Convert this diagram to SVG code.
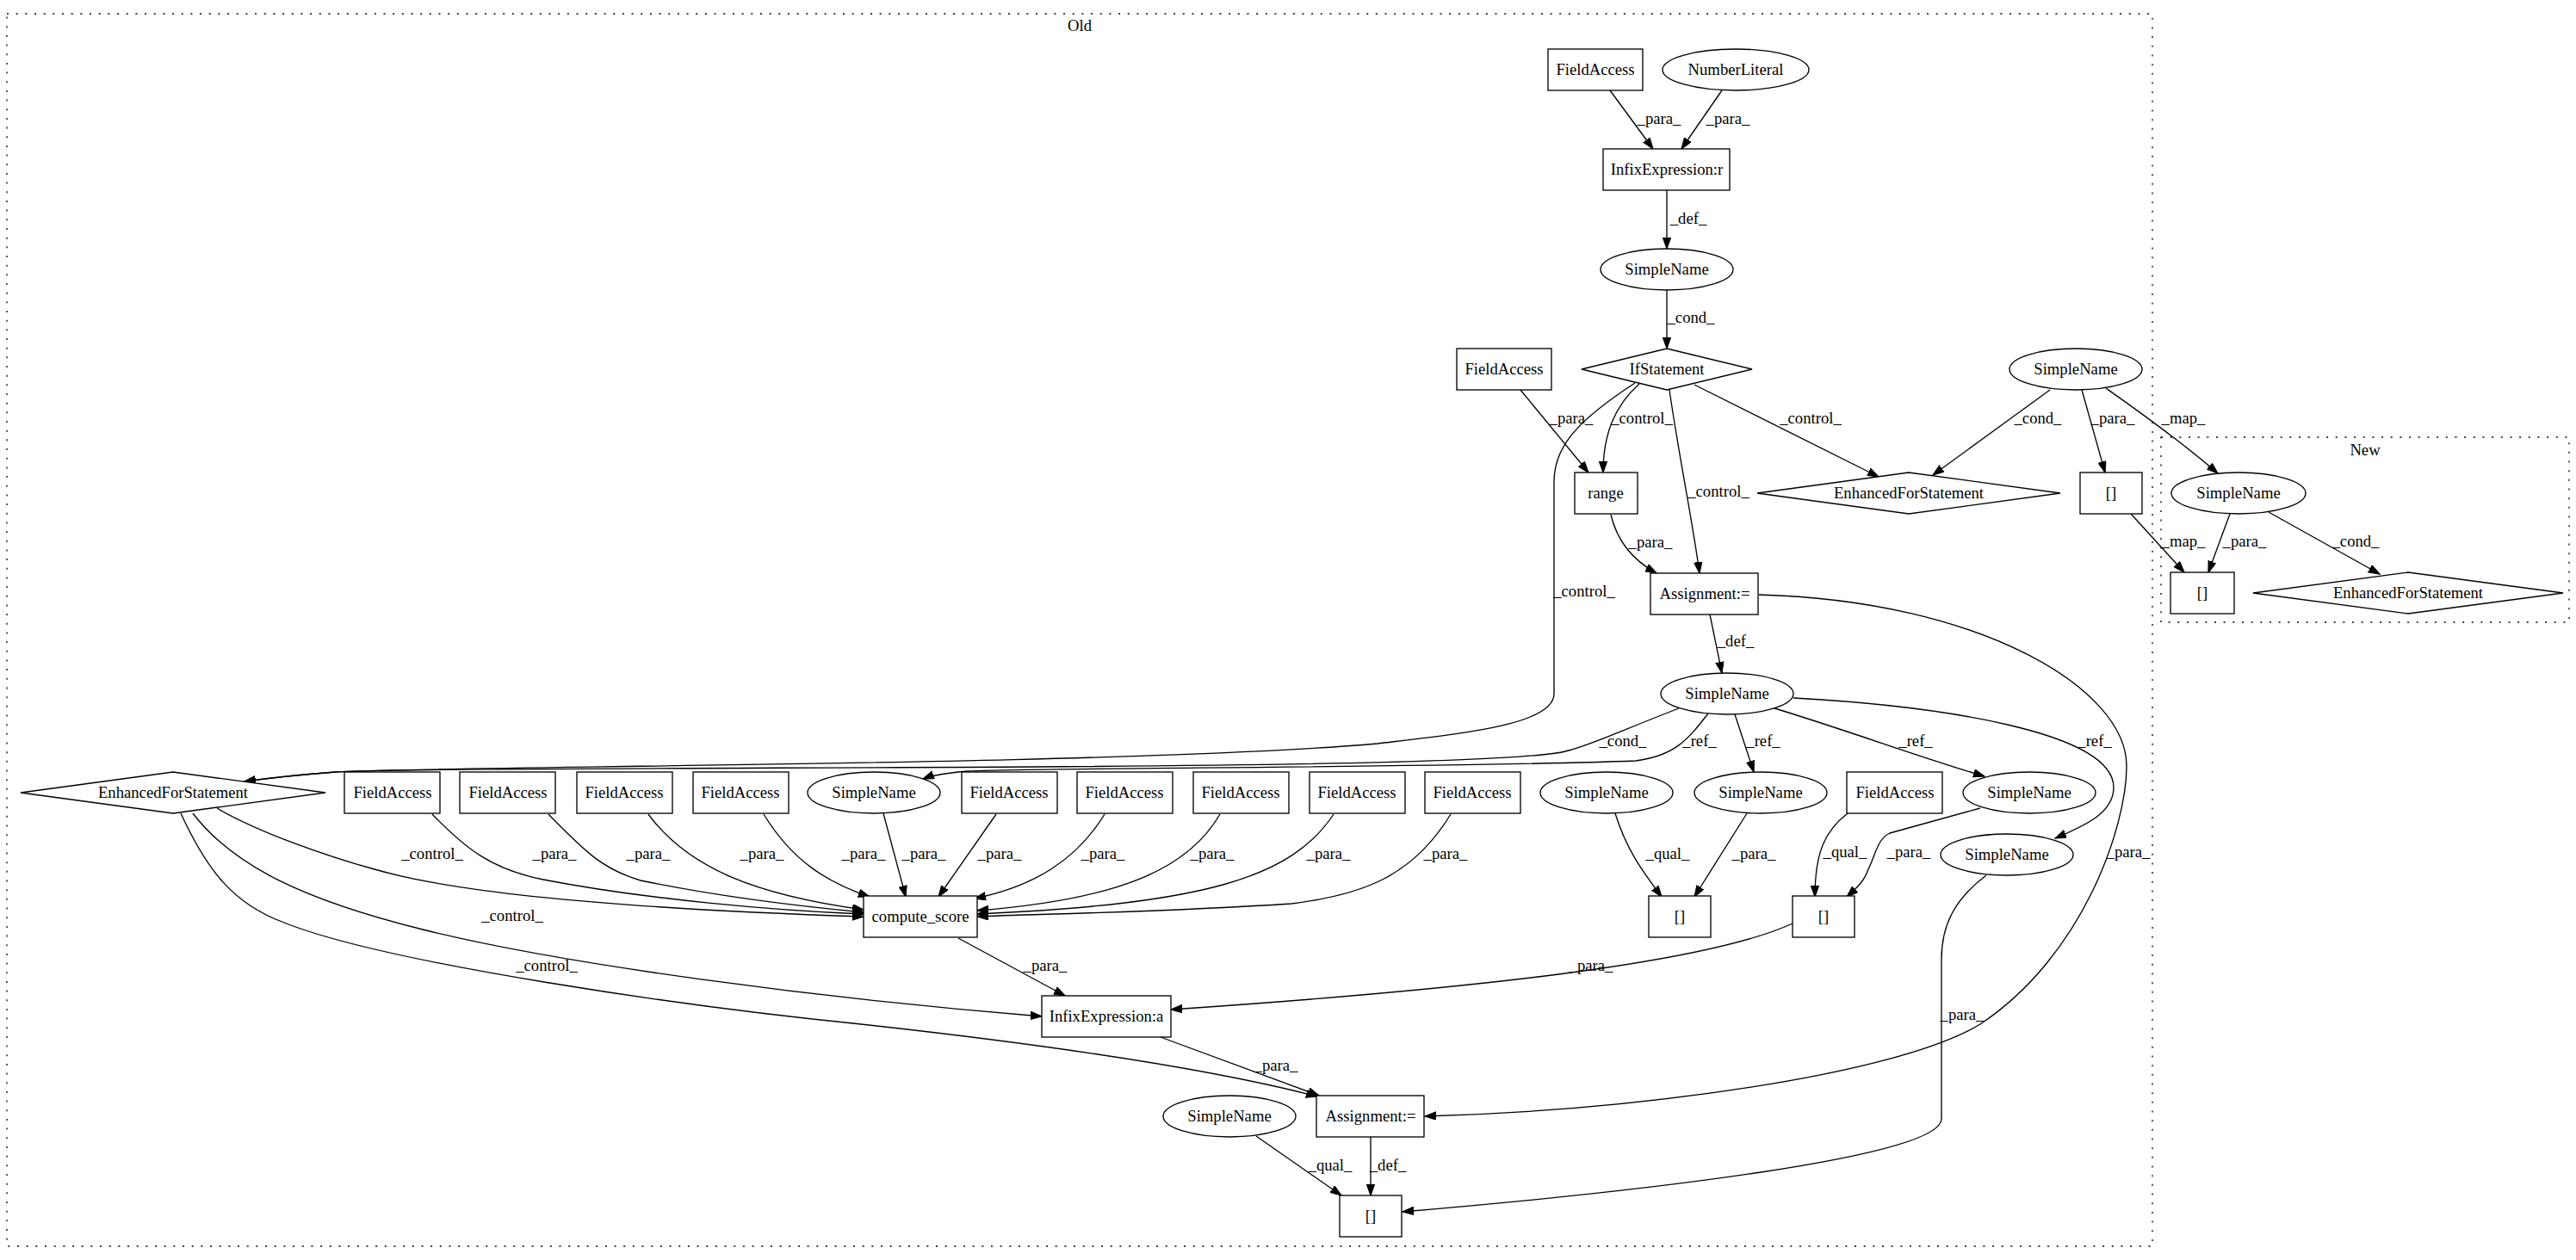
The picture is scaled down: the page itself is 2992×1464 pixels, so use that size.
<svg xmlns="http://www.w3.org/2000/svg" width="2992" height="1464" viewBox="0 0 2992 1464">
<style>
.s{fill:#fff;stroke:#000;stroke-width:1.33}
.c{fill:none;stroke:#000;stroke-width:1.33;stroke-dasharray:2,8.67}
.t{font-family:"Liberation Serif","Times New Roman",serif;font-size:18.67px;text-anchor:middle;fill:#000}
.e path{fill:none;stroke:#000;stroke-width:1.33;marker-end:url(#a)}
</style>
<defs>
<marker id="a" markerWidth="14" markerHeight="10" refX="13" refY="4.7" orient="auto" markerUnits="userSpaceOnUse"><path d="M0,0 L13.3,4.7 L0,9.4 z" fill="#000" stroke="#000" stroke-width="1"/></marker>
</defs>
<rect width="2992" height="1464" fill="#fff"/>
<g id="cluster_old"><rect class="c" x="8" y="16" width="2492" height="1432"/><text class="t" x="1254" y="36">Old</text></g>
<g id="cluster_new"><rect class="c" x="2510" y="508" width="474" height="215"/><text class="t" x="2747" y="529">New</text></g>

<g class="e" id="edges">
<path d="M1870,105 L1920,173"/>
<path d="M2000,105 L1953,173"/>
<path d="M1936,221 L1936,289"/>
<path d="M1936,337 L1936,405"/>
<path d="M1766,453 L1845,549"/>
<path d="M1904,446 C1875,472 1862,505 1862,549"/>
<path d="M1939,453 C1950,530 1965,600 1974,666"/>
<path d="M1968,447 L2182,554"/>
<path d="M1899,445 C1830,490 1805,520 1805,560 L1805,806 C1805,842 1700,852 1600,864 C1300,890 500,890 390,897 C350,900 320,903 284,908"/>
<path d="M1950,823 C1880,850 1850,865 1822,872 C1780,885 1500,889 1200,891 C800,893 450,893 390,897 C350,900 320,903 284,908"/>
<path d="M2381,453 L2245,552"/>
<path d="M2418,453 L2445,549"/>
<path d="M2446,451 C2480,475 2530,510 2576,550"/>
<path d="M2475,597 L2537,665"/>
<path d="M2590,597 L2565,665"/>
<path d="M2635,595 L2764,667"/>
<path d="M1871,598 C1878,628 1895,650 1924,666"/>
<path d="M1986,714 L2000,782"/>
<path d="M2043,691 C2300,698 2470,800 2470,890 C2470,960 2420,1110 2300,1190 C2200,1250 1900,1290 1655,1297"/>
<path d="M1984,829 C1960,860 1945,878 1900,884 C1700,892 1200,892 1124,896 C1100,898 1085,900 1072,905"/>
<path d="M2015,830 L2037,897"/>
<path d="M2058,822 C2150,850 2230,880 2305,902"/>
<path d="M2083,811 C2250,820 2455,850 2455,915 C2455,945 2420,960 2387,974"/>
<path d="M252,939 C300,967 380,995 435,1010 C520,1035 700,1055 1003,1065"/>
<path d="M224,945 C270,1005 350,1045 491,1080 C650,1120 950,1160 1210,1181"/>
<path d="M210,945 C240,1010 270,1050 330,1072 C450,1120 800,1170 1000,1190 C1200,1212 1400,1240 1530,1274"/>
<path d="M502,946 C540,985 570,1010 631,1022 C750,1045 900,1058 1003,1062"/>
<path d="M637,946 C680,990 700,1010 744,1023 C850,1045 950,1055 1003,1060"/>
<path d="M753,946 C800,1010 880,1040 1003,1057"/>
<path d="M887,946 C920,1000 960,1025 1010,1042"/>
<path d="M1026,945 L1052,1042"/>
<path d="M1157,946 L1090,1042"/>
<path d="M1283,946 C1250,1000 1200,1030 1132,1044"/>
<path d="M1417,946 C1380,1010 1300,1045 1135,1058"/>
<path d="M1549,946 C1500,1020 1400,1050 1135,1062"/>
<path d="M1685,946 C1640,1020 1580,1040 1500,1050 C1350,1060 1200,1062 1135,1065"/>
<path d="M1876,945 C1890,990 1910,1015 1930,1042"/>
<path d="M2029,945 L1968,1042"/>
<path d="M2146,945 C2120,965 2108,990 2108,1042"/>
<path d="M2300,939 L2195,968 C2180,975 2178,995 2170,1010 C2165,1025 2155,1033 2145,1042"/>
<path d="M2082,1073 C1980,1120 1700,1150 1360,1173"/>
<path d="M1113,1090 L1237,1157"/>
<path d="M1348,1205 L1532,1273"/>
<path d="M2307,1017 C2270,1045 2255,1075 2255,1115 L2255,1300 C2255,1345 1900,1385 1629,1408"/>
<path d="M1459,1320 L1558,1389"/>
<path d="M1592,1321 L1592,1389"/>
</g>

<g id="edge_labels">
<text class="t" x="1927" y="144">_para_</text>
<text class="t" x="2007" y="144">_para_</text>
<text class="t" x="1961" y="260">_def_</text>
<text class="t" x="1964" y="375">_cond_</text>
<text class="t" x="1825" y="492">_para_</text>
<text class="t" x="1907" y="492">_control_</text>
<text class="t" x="2103" y="492">_control_</text>
<text class="t" x="1996" y="577">_control_</text>
<text class="t" x="1840" y="693">_control_</text>
<text class="t" x="2367" y="492">_cond_</text>
<text class="t" x="2454" y="492">_para_</text>
<text class="t" x="2536" y="492">_map_</text>
<text class="t" x="2536" y="635">_map_</text>
<text class="t" x="2607" y="635">_para_</text>
<text class="t" x="2736" y="635">_cond_</text>
<text class="t" x="1917" y="636">_para_</text>
<text class="t" x="2016" y="751">_def_</text>
<text class="t" x="1885" y="867">_cond_</text>
<text class="t" x="1974" y="867">_ref_</text>
<text class="t" x="2048" y="867">_ref_</text>
<text class="t" x="2225" y="867">_ref_</text>
<text class="t" x="2433" y="867">_ref_</text>
<text class="t" x="2472" y="996">_para_</text>
<text class="t" x="502" y="998">_control_</text>
<text class="t" x="644" y="998">_para_</text>
<text class="t" x="753" y="998">_para_</text>
<text class="t" x="885" y="998">_para_</text>
<text class="t" x="1003" y="998">_para_</text>
<text class="t" x="1073" y="998">_para_</text>
<text class="t" x="1161" y="998">_para_</text>
<text class="t" x="1281" y="998">_para_</text>
<text class="t" x="1408" y="998">_para_</text>
<text class="t" x="1543" y="998">_para_</text>
<text class="t" x="1679" y="998">_para_</text>
<text class="t" x="1937" y="998">_qual_</text>
<text class="t" x="2037" y="998">_para_</text>
<text class="t" x="2143" y="996">_qual_</text>
<text class="t" x="2217" y="996">_para_</text>
<text class="t" x="595" y="1070">_control_</text>
<text class="t" x="635" y="1128">_control_</text>
<text class="t" x="1214" y="1128">_para_</text>
<text class="t" x="1848" y="1128">_para_</text>
<text class="t" x="2279" y="1185">_para_</text>
<text class="t" x="1482" y="1244">_para_</text>
<text class="t" x="1545" y="1360">_qual_</text>
<text class="t" x="1612" y="1360">_def_</text>
</g>

<g id="n1"><rect class="s" x="1798" y="57" width="110" height="48"/><text class="t" x="1853" y="87">FieldAccess</text></g>
<g id="n2"><ellipse class="s" cx="2016" cy="81" rx="85" ry="24"/><text class="t" x="2016" y="87">NumberLiteral</text></g>
<g id="n3"><rect class="s" x="1862" y="173" width="147" height="48"/><text class="t" x="1936" y="203">InfixExpression:r</text></g>
<g id="n4"><ellipse class="s" cx="1936" cy="313" rx="77" ry="24"/><text class="t" x="1936" y="319">SimpleName</text></g>
<g id="n5"><polygon class="s" points="1936,405 2035,429 1936,453 1837,429"/><text class="t" x="1936" y="435">IfStatement</text></g>
<g id="n6"><rect class="s" x="1692" y="405" width="110" height="48"/><text class="t" x="1747" y="435">FieldAccess</text></g>
<g id="n7"><ellipse class="s" cx="2411" cy="429" rx="77" ry="24"/><text class="t" x="2411" y="435">SimpleName</text></g>
<g id="n8"><rect class="s" x="1829" y="549" width="73" height="48"/><text class="t" x="1865" y="579">range</text></g>
<g id="n9"><polygon class="s" points="2217,549 2393,573 2217,597 2041,573"/><text class="t" x="2217" y="579">EnhancedForStatement</text></g>
<g id="n10"><rect class="s" x="2416" y="549" width="72" height="48"/><text class="t" x="2452" y="579">[]</text></g>
<g id="n11"><rect class="s" x="1917" y="666" width="125" height="48"/><text class="t" x="1980" y="696">Assignment:=</text></g>
<g id="n12"><ellipse class="s" cx="2006" cy="806" rx="77" ry="24"/><text class="t" x="2006" y="812">SimpleName</text></g>
<g id="n13"><polygon class="s" points="201,897 378,921 201,945 24,921"/><text class="t" x="201" y="927">EnhancedForStatement</text></g>
<g id="n14"><rect class="s" x="400" y="897" width="111" height="48"/><text class="t" x="456" y="927">FieldAccess</text></g>
<g id="n15"><rect class="s" x="534" y="897" width="111" height="48"/><text class="t" x="590" y="927">FieldAccess</text></g>
<g id="n16"><rect class="s" x="670" y="897" width="111" height="48"/><text class="t" x="725" y="927">FieldAccess</text></g>
<g id="n17"><rect class="s" x="805" y="897" width="111" height="48"/><text class="t" x="860" y="927">FieldAccess</text></g>
<g id="n18"><ellipse class="s" cx="1015" cy="921" rx="77" ry="24"/><text class="t" x="1015" y="927">SimpleName</text></g>
<g id="n19"><rect class="s" x="1117" y="897" width="111" height="48"/><text class="t" x="1172" y="927">FieldAccess</text></g>
<g id="n20"><rect class="s" x="1251" y="897" width="111" height="48"/><text class="t" x="1306" y="927">FieldAccess</text></g>
<g id="n21"><rect class="s" x="1386" y="897" width="111" height="48"/><text class="t" x="1441" y="927">FieldAccess</text></g>
<g id="n22"><rect class="s" x="1521" y="897" width="111" height="48"/><text class="t" x="1576" y="927">FieldAccess</text></g>
<g id="n23"><rect class="s" x="1655" y="897" width="111" height="48"/><text class="t" x="1710" y="927">FieldAccess</text></g>
<g id="n24"><ellipse class="s" cx="1866" cy="921" rx="77" ry="24"/><text class="t" x="1866" y="927">SimpleName</text></g>
<g id="n25"><ellipse class="s" cx="2045" cy="921" rx="77" ry="24"/><text class="t" x="2045" y="927">SimpleName</text></g>
<g id="n26"><rect class="s" x="2145" y="897" width="111" height="48"/><text class="t" x="2201" y="927">FieldAccess</text></g>
<g id="n27"><ellipse class="s" cx="2357" cy="921" rx="77" ry="24"/><text class="t" x="2357" y="927">SimpleName</text></g>
<g id="n28"><ellipse class="s" cx="2331" cy="993" rx="77" ry="24"/><text class="t" x="2331" y="999">SimpleName</text></g>
<g id="n29"><rect class="s" x="1003" y="1041" width="132" height="48"/><text class="t" x="1069" y="1071">compute_score</text></g>
<g id="n30"><rect class="s" x="1915" y="1041" width="72" height="48"/><text class="t" x="1951" y="1071">[]</text></g>
<g id="n31"><rect class="s" x="2082" y="1041" width="72" height="48"/><text class="t" x="2118" y="1071">[]</text></g>
<g id="n32"><rect class="s" x="1210" y="1157" width="150" height="48"/><text class="t" x="1285" y="1187">InfixExpression:a</text></g>
<g id="n33"><ellipse class="s" cx="1428" cy="1297" rx="77" ry="24"/><text class="t" x="1428" y="1303">SimpleName</text></g>
<g id="n34"><rect class="s" x="1529" y="1273" width="125" height="48"/><text class="t" x="1592" y="1303">Assignment:=</text></g>
<g id="n35"><rect class="s" x="1556" y="1389" width="72" height="48"/><text class="t" x="1592" y="1419">[]</text></g>
<g id="n36"><ellipse class="s" cx="2600" cy="573" rx="78" ry="24"/><text class="t" x="2600" y="579">SimpleName</text></g>
<g id="n37"><rect class="s" x="2521" y="665" width="74" height="48"/><text class="t" x="2558" y="695">[]</text></g>
<g id="n38"><polygon class="s" points="2797,665 2977,689 2797,713 2617,689"/><text class="t" x="2797" y="695">EnhancedForStatement</text></g>
</svg>
